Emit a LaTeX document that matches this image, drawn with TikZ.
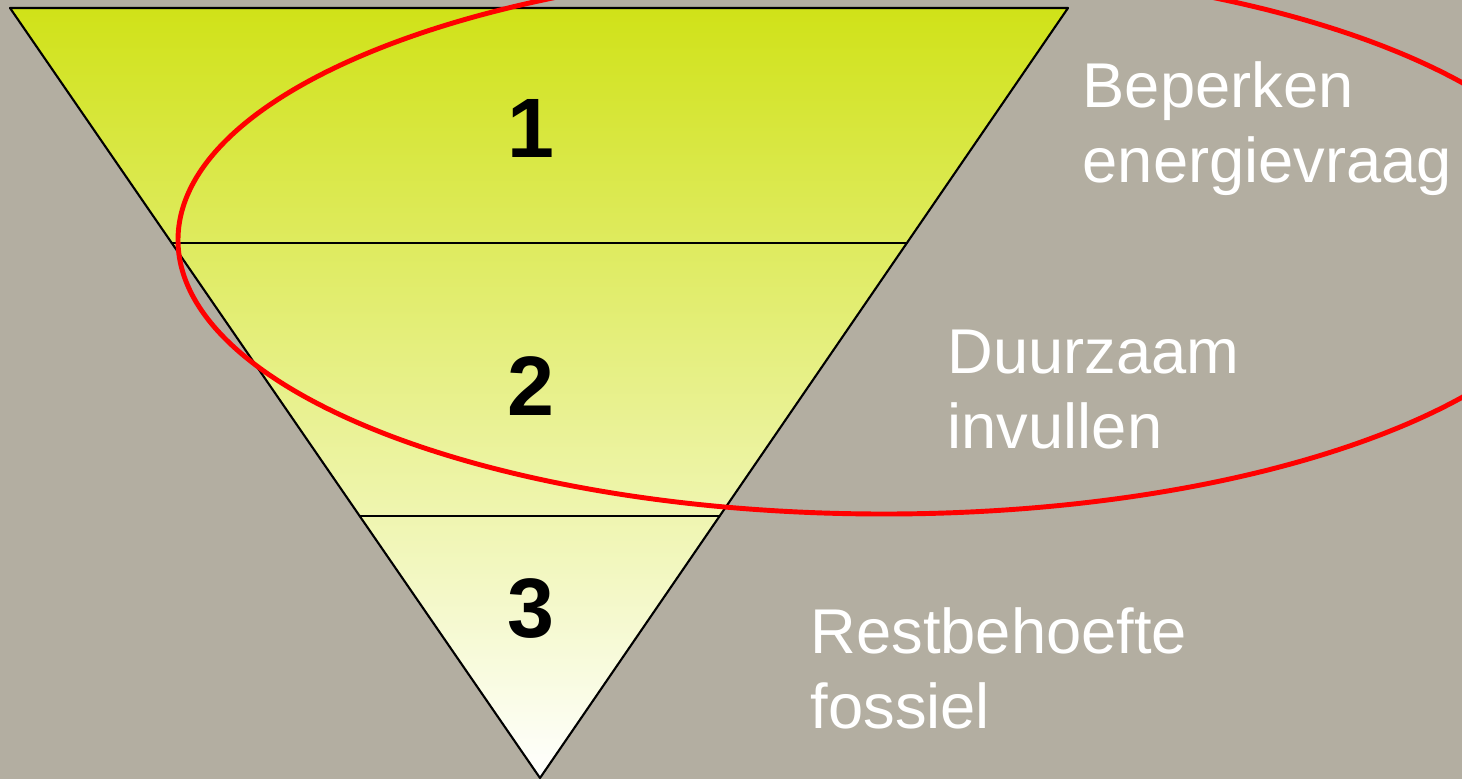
\documentclass[tikz,border=0pt]{standalone}
\usepackage{fontspec}
\setmainfont{Liberation Sans}
\usetikzlibrary{calc}
\definecolor{slidegrey}{RGB}{179,174,161}
\definecolor{funnelgreen}{RGB}{208,226,24}
\definecolor{funnelpale}{RGB}{230,239,182}
\definecolor{ringred}{RGB}{255,0,0}
\tikzset{
  stepnum/.style={font=\bfseries\fontsize{24}{28}\selectfont, inner sep=0pt, anchor=base},
  steptext/.style={text=white, font=\fontsize{18}{21.3}\selectfont, align=left, inner sep=0pt, anchor=base west},
}
\begin{document}
\begin{tikzpicture}[line cap=round, line join=round]
  % Slide background
  \useasboundingbox (0, 0) rectangle (14.62, 7.79);
  \clip (0, 0) rectangle (14.62, 7.79);
  \fill[slidegrey] (0, 0) rectangle (14.62, 7.79);

  % Funnel corners
  \coordinate (tl) at (0.10, 7.71);
  \coordinate (tr) at (10.68, 7.71);
  \coordinate (apex) at (5.40, 0.01);

  % Funnel with shading
  \shade[top color=funnelgreen, middle color=funnelpale, bottom color=white] (tl) -- (tr) -- (apex) -- cycle;
  \draw[line width=0.6pt] (tl) -- (tr) -- (apex) -- cycle;

  % Dividing lines
  \coordinate (a1) at ($(tl)!0.305!(apex)$);
  \coordinate (b1) at ($(tr)!0.305!(apex)$);
  \coordinate (a2) at ($(tl)!0.660!(apex)$);
  \coordinate (b2) at ($(tr)!0.660!(apex)$);
  \draw[line width=0.6pt] (a1) -- (b1);
  \draw[line width=0.6pt] (a2) -- (b2);

  % Step numbers
  \node[stepnum] (n1) at (5.31, 6.21) {1};
  \node[stepnum] (n2) at (5.31, 3.64) {2};
  \node[stepnum] (n3) at (5.31, 1.42) {3};

  % Step labels (base = last line)
  \node[steptext] (t1) at (10.82, 5.97) {Beperken\\energievraag};
  \node[steptext] (t2) at (9.47, 3.31) {Duurzaam\\invullen};
  \node[steptext] (t3) at (8.10, 0.51) {Restbehoefte\\fossiel};

  % Red ring
  \draw[ringred, line width=1.4pt] (8.84, 5.39) ellipse [x radius=7.06, y radius=2.74];
\end{tikzpicture}
\end{document}
